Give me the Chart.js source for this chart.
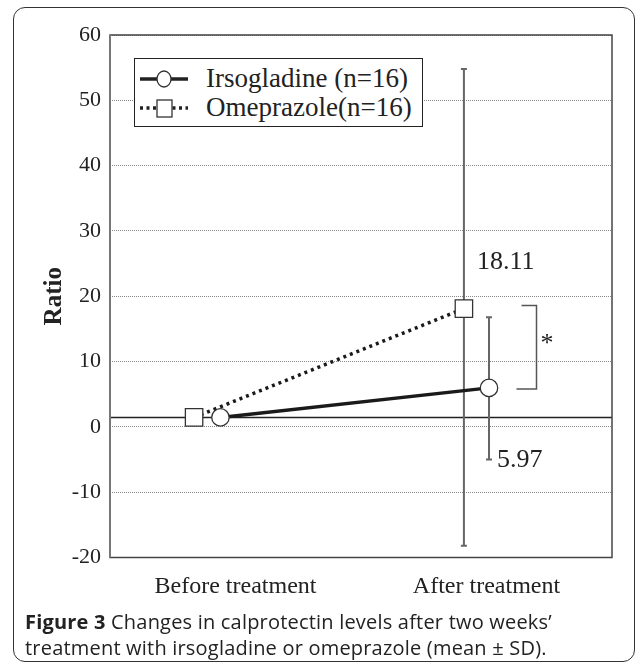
<!DOCTYPE html>
<html>
<head>
<meta charset="utf-8">
<script src="https://cdn.jsdelivr.net/npm/chart.js@4.4.0/dist/chart.umd.min.js"></script>
<style>
  body { margin: 0; background: #fff; }
  #frame {
    position: absolute; left: 13px; top: 7px; width: 620px; height: 653px;
    border: 1.5px solid #333; border-radius: 12px;
  }
  #wrap { position: absolute; left: 0; top: 0; width: 636px; height: 620px; }
  #legend {
    position: absolute; left: 134px; top: 58px; width: 287px; height: 67px;
    border: 1.5px solid #222; background: #fff;
    font-family: 'Liberation Serif', serif; font-size: 27px; color: #222;
  }
  #legend .row { position: absolute; left: 0; height: 29px; line-height: 29px; }
  #legend svg { position: absolute; left: 4px; top: 2px; }
  #legend span { position: absolute; left: 71px; white-space: nowrap; }
  #caption {
    position: absolute; left: 25px; top: 609px; width: 610px;
    font-family: 'Open Sans', sans-serif; font-size: 20px; line-height: 26px; color: #222;
    letter-spacing: 0.2px;
  }
</style>
</head>
<body>
<div id="frame"></div>
<div id="wrap"><canvas id="chart"></canvas></div>
<div id="legend">
  <div class="row" style="top:5px">
    <svg width="54" height="26"><line x1="1" y1="13" x2="49" y2="13" stroke="#222" stroke-width="3.5"/><ellipse cx="25" cy="13" rx="7" ry="8" fill="#fff" stroke="#333" stroke-width="1.3"/></svg>
    <span>Irsogladine (n=16)</span>
  </div>
  <div class="row" style="top:34px">
    <svg width="54" height="26"><line x1="1" y1="13" x2="49" y2="13" stroke="#222" stroke-width="3.5" stroke-dasharray="3,3.5"/><rect x="18" y="5" width="15" height="17" fill="#fff" stroke="#333" stroke-width="1.3"/></svg>
    <span>Omeprazole(n=16)</span>
  </div>
</div>
<div id="caption"><b>Figure 3</b> Changes in calprotectin levels after two weeks’<br>treatment with irsogladine or omeprazole (mean ± SD).</div>

<script>
// data
const categories = ['Before treatment', 'After treatment'];
const irsoMean = [1.45, 5.97];
const irsoHigh = [null, 16.8];
const irsoLow = [null, -5.0];
const omeMean = [1.45, 18.11];
const omeHigh = [null, 54.8];
const omeLow = [null, -18.2];
const yTicks = [-20, -10, 0, 10, 20, 30, 40, 50, 60];

// horizontal shift of each point from its category centre (the figure dodges them)
const irsoShift = [-0.06, 0.01];
const omeShift = [-0.165, -0.09];

function points(mean, shift) {
  return mean.map((v, i) => ({ x: i + 0.5 + shift[i], y: v }));
}

const serif = 'Liberation Serif';

// error bars, baseline, bracket and value labels
const extras = {
  id: 'extras',
  beforeDatasetsDraw(chart) {
    const { ctx, chartArea: a, scales: { x, y } } = chart;
    ctx.save();
    // baseline at the pre-treatment level
    ctx.strokeStyle = '#222';
    ctx.lineWidth = 1.5;
    ctx.beginPath();
    ctx.moveTo(a.left, y.getPixelForValue(irsoMean[0]));
    ctx.lineTo(a.right, y.getPixelForValue(irsoMean[0]));
    ctx.stroke();
    // error bars
    ctx.strokeStyle = '#666';
    ctx.lineWidth = 2;
    [[omeMean, omeHigh, omeLow, omeShift], [irsoMean, irsoHigh, irsoLow, irsoShift]].forEach(([m, hi, lo, sh]) => {
      m.forEach((v, i) => {
        if (hi[i] == null) return;
        const px = x.getPixelForValue(i + 0.5 + sh[i]);
        const t = y.getPixelForValue(hi[i]);
        const b = y.getPixelForValue(lo[i]);
        ctx.beginPath();
        ctx.moveTo(px, t); ctx.lineTo(px, b);
        ctx.moveTo(px - 3, t); ctx.lineTo(px + 3, t);
        ctx.moveTo(px - 3, b); ctx.lineTo(px + 3, b);
        ctx.stroke();
      });
    });
    ctx.restore();
  },
  afterDraw(chart) {
    const { ctx, chartArea: a, scales: { x, y } } = chart;
    ctx.save();
    // plot frame
    ctx.strokeStyle = '#444';
    ctx.lineWidth = 1.5;
    ctx.strokeRect(a.left, a.top, a.right - a.left, a.bottom - a.top);
    ctx.strokeStyle = '#777';
    ctx.lineWidth = 2;
    ctx.beginPath();
    ctx.moveTo(a.left, a.top); ctx.lineTo(a.left, a.bottom);
    ctx.stroke();

    // significance bracket
    const bx = x.getPixelForValue(1.5) + 50;
    const top = y.getPixelForValue(omeMean[1]) - 3;
    const bot = y.getPixelForValue(irsoMean[1]) + 1;
    ctx.strokeStyle = '#555';
    ctx.lineWidth = 1.5;
    ctx.beginPath();
    ctx.moveTo(bx - 15, top); ctx.lineTo(bx, top);
    ctx.lineTo(bx, bot); ctx.lineTo(bx - 20, bot);
    ctx.stroke();

    ctx.fillStyle = '#222';
    ctx.font = '26px "' + serif + '"';
    ctx.textBaseline = 'middle';
    ctx.textAlign = 'left';
    ctx.fillText('*', bx + 4, (top + bot) / 2 - 3);

    // mean labels
    const ox = x.getPixelForValue(1.5 + omeShift[1]);
    ctx.fillText(omeMean[1].toFixed(2), ox + 13, y.getPixelForValue(omeMean[1]) - 46);
    const ix = x.getPixelForValue(1.5 + irsoShift[1]);
    ctx.fillText(irsoMean[1].toFixed(2), ix + 8, y.getPixelForValue(irsoLow[1]) + 1);
    ctx.restore();
  }
};

new Chart(document.getElementById('chart'), {
  type: 'line',
  data: {
    datasets: [
      {
        label: 'Irsogladine (n=16)',
        data: points(irsoMean, irsoShift),
        borderColor: '#1a1a1a',
        borderWidth: 3.5,
        pointStyle: 'circle',
        pointRadius: 8.7,
        pointBackgroundColor: '#fff',
        pointBorderColor: '#333',
        pointBorderWidth: 1.3
      },
      {
        label: 'Omeprazole(n=16)',
        data: points(omeMean, omeShift),
        borderColor: '#1a1a1a',
        borderWidth: 3.5,
        borderDash: [3, 4],
        pointStyle: 'rect',
        pointRadius: 12.3,
        pointBackgroundColor: '#fff',
        pointBorderColor: '#333',
        pointBorderWidth: 1.3
      }
    ]
  },
  options: {
    responsive: true,
    maintainAspectRatio: false,
    animation: false,
    layout: { padding: { top: 35, right: 24, left: 0, bottom: 0 } },
    plugins: { legend: { display: false }, tooltip: { enabled: false } },
    scales: {
      x: {
        type: 'linear',
        min: 0,
        max: 2,
        grid: { display: false },
        border: { display: false },
        afterBuildTicks: s => { s.ticks = categories.map((c, i) => ({ value: i + 0.5 })); },
        afterFit: s => { s.height = 62.5; },
        ticks: {
          callback: (v, i) => categories[i],
          font: { family: serif, size: 24 },
          color: '#222',
          padding: 7,
          maxRotation: 0
        }
      },
      y: {
        min: -20,
        max: 60,
        afterBuildTicks: s => { s.ticks = yTicks.map(v => ({ value: v })); },
        afterFit: s => { s.width = 110; },
        grid: { color: '#888', lineWidth: 1, drawTicks: false },
        border: { display: false, dash: [1, 1] },
        ticks: {
          font: { family: serif, size: 22 },
          color: '#222',
          padding: 9
        },
        title: {
          display: true,
          text: 'Ratio',
          font: { family: serif, size: 25, weight: 'bold' },
          color: '#222',
          padding: { top: 40, bottom: 0 }
        }
      }
    }
  },
  plugins: [extras]
});
</script>
</body>
</html>
